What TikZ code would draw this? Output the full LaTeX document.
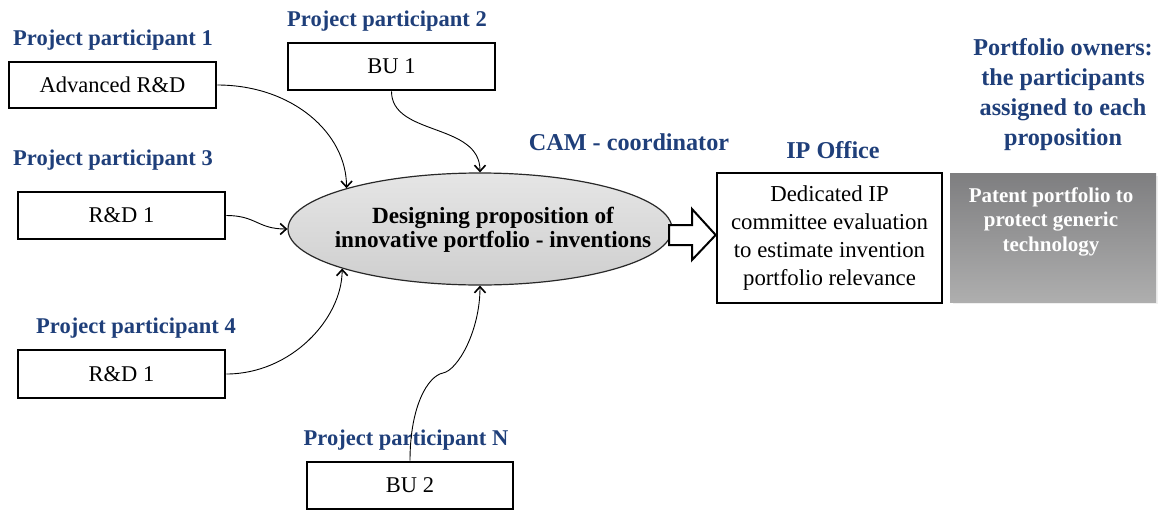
\documentclass[tikz,border=0pt]{standalone}
\usepackage{fontspec}
\setmainfont{Liberation Serif}
\usetikzlibrary{arrows.meta,shapes.geometric,calc}
\definecolor{lblue}{HTML}{1F3F7A}
\definecolor{greytop}{HTML}{7E7E80}
\definecolor{greybot}{HTML}{AEAEAE}
\begin{document}
\begin{tikzpicture}[x=1pt,y=-1pt,
  box/.style={draw=black, line width=2.6pt, fill=white, inner sep=0pt,
    font=\fontsize{22.5}{27}\selectfont},
  lbl/.style={text=lblue, font=\fontsize{22.5}{27}\selectfont\bfseries, inner sep=0pt, anchor=base},
  bigl/.style={text=lblue, font=\fontsize{24.2}{30}\selectfont\bfseries, inner sep=0pt},
  conn/.style={draw=black, line width=0.9pt,
    -{Straight Barb[length=6pt,width=11pt,line width=1.6pt]}},
  blockarrow/.style={draw=black, line width=2pt, fill=white, line join=miter},
]
\useasboundingbox[fill=white] (0,0) rectangle (1162,512);

% participant labels
\node[lbl] (l1) at (113,45) {Project participant 1};
\node[lbl] (l2) at (387,26) {Project participant 2};
\node[lbl] (l3) at (113,165) {Project participant 3};
\node[lbl] (l4) at (136,333) {Project participant 4};
\node[lbl] (lN) at (406,445) {Project participant N};
\node[bigl, anchor=base] (cam) at (629,150) {CAM - coordinator};
\node[bigl, anchor=base] (ipl) at (833,158) {IP Office};
\node[bigl, anchor=north, align=center, font=\fontsize{24.2}{30}\selectfont\bfseries] (own) at (1063,38.5)
  {Portfolio owners:\\the participants\\assigned to each\\proposition};

% participant boxes
\node[box, minimum width=207, minimum height=46] (a1) at (112.5,85) {Advanced R\&D};
\node[box, minimum width=207, minimum height=47] (b1) at (391.5,66.5) {BU 1};
\node[box, minimum width=207, minimum height=47] (r3) at (121.5,215.5) {R\&D 1};
\node[box, minimum width=207, minimum height=48] (r4) at (121.5,374) {R\&D 1};
\node[box, minimum width=206, minimum height=47] (b2) at (410,485.5) {BU 2};

% central ellipse
\node[ellipse, draw={rgb,255:red,40;green,40;blue,40}, line width=1.2pt,
  top color=gray!20, bottom color=gray!38, inner sep=0pt,
  minimum width=384, minimum height=112] (E) at (480,229) {};
\node[inner sep=0pt, align=center, font=\fontsize{23.2}{23.5}\selectfont\bfseries]
  (Et) at (493,230) {Designing proposition of\\innovative portfolio - inventions};

% IP office box
\node[box, minimum width=225, minimum height=130, align=center,
  font=\fontsize{22.8}{28}\selectfont] (ip) at (829.5,238)
  {Dedicated IP\\committee evaluation\\to estimate invention\\portfolio relevance};

% patent portfolio box
\fill[gray!12] (953,176) rectangle (1158,304);
\node[top color=greytop, bottom color=greybot, inner sep=0pt,
  minimum width=206, minimum height=129] (pp) at (1053,237.5) {};
\node[text=white, inner sep=0pt, anchor=north, align=center,
  font=\fontsize{21}{24.5}\selectfont\bfseries] (ppt) at (1051,187.5)
  {Patent portfolio to\\protect generic\\technology};

% connectors
\draw[conn] (a1.east) .. controls +(75,0) and +(0,-55) .. (E.163.5);
\draw[conn] (b1.south) .. controls +(0,45) and +(0,-50) .. (E.north);
\draw[conn] (r3.east) .. controls +(30,0) and +(-30,0) .. (E.west);
\draw[conn] (r4.east) .. controls +(65,0) and +(0,50) .. (E.196.5);
\coordinate (k) at (443,373);
\draw[conn] (b2.north) .. controls +(0,-55) and +(-15,3) .. (k)
  .. controls +(15,-3) and +(0,45) .. (E.south);

% block arrow from ellipse to IP office
\draw[blockarrow] (669,225) -- (692,225) -- (692,209) -- (ip.west |- 0,235)
  -- (692,260) -- (692,245) -- (669,245) -- cycle;
\end{tikzpicture}
\end{document}
